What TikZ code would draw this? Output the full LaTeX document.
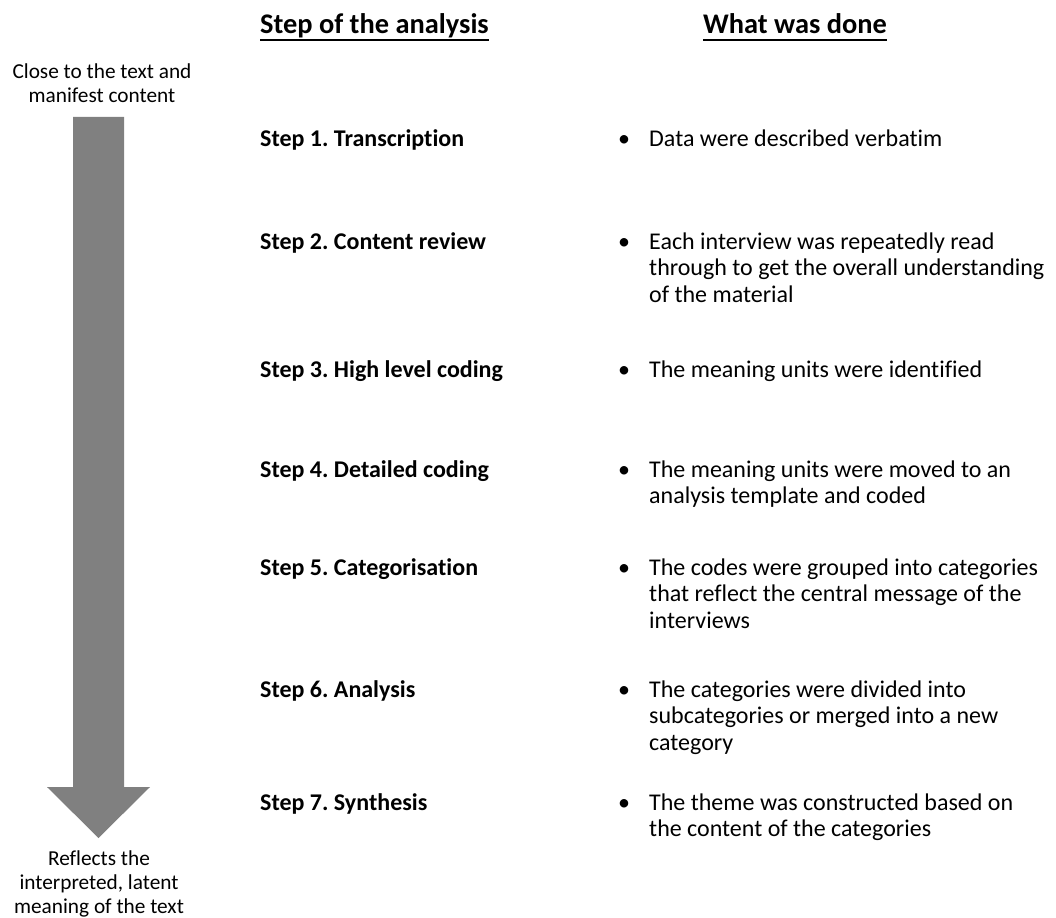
\documentclass[tikz,border=0pt]{standalone}
\usepackage{fontspec}
\setmainfont{Carlito}[Ligatures=NoCommon]
\frenchspacing
\begin{document}
\begin{tikzpicture}[x=1pt,y=-1pt,
  body/.style={anchor=base west, inner sep=0pt, font=\fontsize{24}{26.5}\selectfont},
  steplbl/.style={anchor=base west, inner sep=0pt, font=\fontsize{24}{26.5}\selectfont\bfseries},
  hdr/.style={anchor=base west, inner sep=0pt, font=\fontsize{28.4}{34}\selectfont\bfseries},
  side/.style={anchor=base, inner sep=0pt, font=\fontsize{21.3}{24}\selectfont},
  uline/.style={line width=2pt, black},
  bigarrow/.style={fill=black!50, draw=none}]
\newcommand{\bul}[1]{\parbox[t]{420pt}{\raggedright\leavevmode\llap{\makebox[31pt][l]{\textbullet}}#1}}
\newcommand{\sidetxt}[1]{\parbox[t]{220pt}{\centering #1}}
\useasboundingbox (0,0) rectangle (1056,917);
% headers
\node[hdr] (h1) at (260,34) {Step of the analysis};
\node[hdr] (h2) at (703,34) {What was done};
\draw[uline] ([yshift=-6pt]h1.base west) -- ([yshift=-6pt]h1.base east);
\draw[uline] ([yshift=-6pt]h2.base west) -- ([yshift=-6pt]h2.base east);
% side labels
\node[side] (top) at (102,79) {\sidetxt{Close to the text and\\manifest content}};
\node[side] (bot) at (99,865) {\sidetxt{Reflects the\\interpreted, latent\\meaning of the text}};
% big arrow
\fill[bigarrow] (73,117) -- (124,117) -- (124,787) -- (150,787) -- (98.5,838) -- (47,787) -- (73,787) -- cycle;
% steps
\node[steplbl] (s1) at (260,147) {Step 1. Transcription};
\node[steplbl] (s2) at (260,249) {Step 2. Content review};
\node[steplbl] (s3) at (260,377) {Step 3. High level coding};
\node[steplbl] (s4) at (260,477) {Step 4. Detailed coding};
\node[steplbl] (s5) at (260,575) {Step 5. Categorisation};
\node[steplbl] (s6) at (260,697) {Step 6. Analysis};
\node[steplbl] (s7) at (260,810) {Step 7. Synthesis};
% descriptions
\node[body] (d1) at (649,147) {\bul{Data were described verbatim}};
\node[body] (d2) at (649,249) {\bul{Each interview was repeatedly read\\through to get the overall understanding\\of the material}};
\node[body] (d3) at (649,377) {\bul{The meaning units were identified}};
\node[body] (d4) at (649,477) {\bul{The meaning units were moved to an\\analysis template and coded}};
\node[body] (d5) at (649,575) {\bul{The codes were grouped into categories\\that reflect the central message of the\\interviews}};
\node[body] (d6) at (649,697) {\bul{The categories were divided into\\subcategories or merged into a new\\category}};
\node[body] (d7) at (649,810) {\bul{The theme was constructed based on\\the content of the categories}};
\end{tikzpicture}
\end{document}
